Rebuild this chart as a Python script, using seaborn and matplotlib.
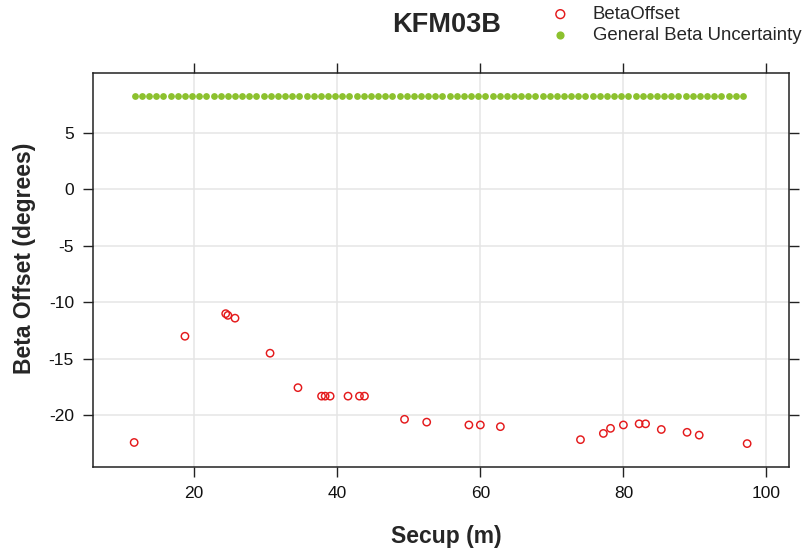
import matplotlib
matplotlib.use("Agg")
import matplotlib.pyplot as plt
import seaborn as sns
import pandas as pd

# ---- data ----
secup = [11.6, 18.7, 24.4, 24.7, 25.7, 30.6, 34.5, 37.8, 38.3, 39.0, 41.5,
         43.1, 43.8, 49.4, 52.5, 58.4, 60.0, 62.8, 74.0, 77.2, 78.2, 80.0,
         82.2, 83.1, 85.3, 88.9, 90.6, 97.3]
beta_offset = [-22.4, -13.0, -11.0, -11.15, -11.4, -14.5, -17.55, -18.3, -18.3,
               -18.3, -18.3, -18.3, -18.3, -20.35, -20.6, -20.85, -20.85, -21.0,
               -22.15, -21.6, -21.15, -20.85, -20.75, -20.75, -21.25, -21.5,
               -21.75, -22.5]
uncertainty_secup = [11.7, 12.7, 13.7, 14.7, 15.7, 16.7, 17.7, 18.7, 19.7, 20.7,
                     21.7, 22.7, 23.7, 24.7, 25.7, 26.7, 27.7, 28.7, 29.7, 30.7,
                     31.7, 32.7, 33.7, 34.7, 35.7, 36.7, 37.7, 38.7, 39.7, 40.7,
                     41.7, 42.7, 43.7, 44.7, 45.7, 46.7, 47.7, 48.7, 49.7, 50.7,
                     51.7, 52.7, 53.7, 54.7, 55.7, 56.7, 57.7, 58.7, 59.7, 60.7,
                     61.7, 62.7, 63.7, 64.7, 65.7, 66.7, 67.7, 68.7, 69.7, 70.7,
                     71.7, 72.7, 73.7, 74.7, 75.7, 76.7, 77.7, 78.7, 79.7, 80.7,
                     81.7, 82.7, 83.7, 84.7, 85.7, 86.7, 87.7, 88.7, 89.7, 90.7,
                     91.7, 92.7, 93.7, 94.7, 95.7, 96.7]
general_beta_uncertainty = 8.23
x_ticks = [20, 40, 60, 80, 100]
y_ticks = [5, 0, -5, -10, -15, -20]

title = "KFM03B"
series_names = ["BetaOffset", "General Beta Uncertainty"]

RED = "#E41A1C"
GREEN = "#8CC12E"

sns.set_theme(style="white")
plt.rcParams["font.family"] = ["Liberation Sans", "DejaVu Sans"]

df_off = pd.DataFrame({"Secup": secup, "Beta": beta_offset})
df_unc = pd.DataFrame({"Secup": uncertainty_secup,
                       "Beta": [general_beta_uncertainty] * len(uncertainty_secup)})

fig = plt.figure(figsize=(8.08, 5.57), dpi=100)
ax = fig.add_axes([0.1147, 0.1616, 0.8622, 0.7082])

sns.scatterplot(data=df_unc, x="Secup", y="Beta", ax=ax, color=GREEN,
                s=24, linewidth=0, label=series_names[1], zorder=3)
sns.scatterplot(data=df_off, x="Secup", y="Beta", ax=ax, facecolor="none",
                edgecolor=RED, s=28, linewidth=1.05, label=series_names[0], zorder=4)

ax.set_xlim(5.8, 103.2)
ax.set_ylim(-24.57, 10.34)
ax.set_xticks(x_ticks)
ax.set_yticks(y_ticks)
ax.set_xticklabels([str(t) for t in x_ticks])
ax.set_yticklabels([str(t) for t in y_ticks])

ax.grid(True, color="#E5E5E5", linewidth=1.1)
ax.set_axisbelow(True)
for sp in ax.spines.values():
    sp.set_visible(True)
    sp.set_color("#222222")
    sp.set_linewidth(1.1)

ax.tick_params(axis="both", which="major", direction="out", length=7.5,
               width=1.0, color="#222222", labelsize=12.5, labelcolor="#111111",
               top=True, right=True, bottom=True, left=True,
               labeltop=False, labelright=False, pad=6)

ax.set_xlabel("Secup (m)", fontsize=16.5, fontweight="bold")
ax.xaxis.set_label_coords((446 - 92.7) / 696.6, -0.148)
ax.set_ylabel("Beta Offset (degrees)", fontsize=16.5, fontweight="bold")
ax.yaxis.set_label_coords((36 - 92.7) / 696.6, (467 - 258) / 394.5)

fig.text(446.7 / 808, 1 - 31.7 / 557, title, ha="center", va="baseline",
         fontsize=19.5, fontweight="bold")

handles, labels = ax.get_legend_handles_labels()
order = [labels.index(series_names[0]), labels.index(series_names[1])]
leg = ax.legend([handles[i] for i in order], [labels[i] for i in order],
                loc="upper left", bbox_to_anchor=(551 / 808, 1 - 6 / 557),
                bbox_transform=fig.transFigure, frameon=False, fontsize=13.4,
                handlelength=1.0, handletextpad=1.25, borderpad=0,
                borderaxespad=0, labelspacing=0.2, markerscale=1.2)

fig.savefig("out.png", dpi=100)
